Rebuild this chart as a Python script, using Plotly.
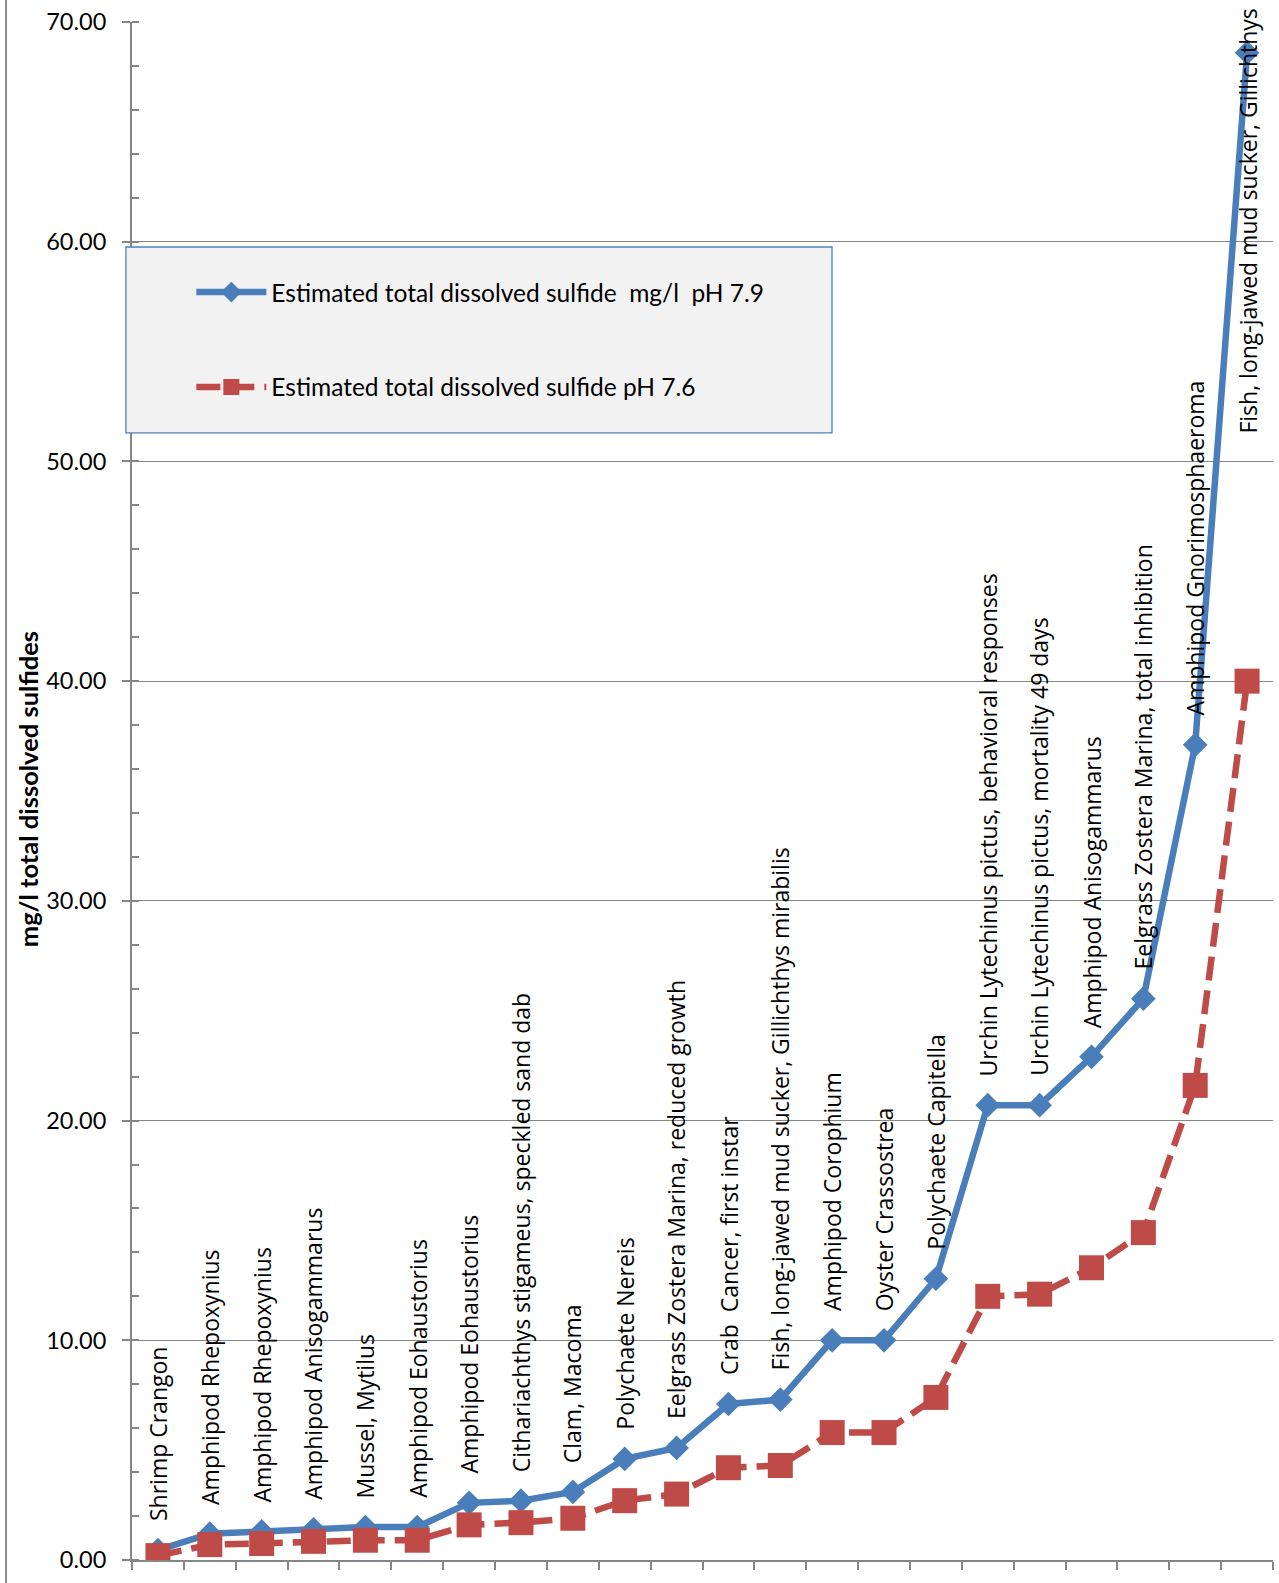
import plotly.graph_objects as go

species = [
    "Shrimp Crangon",
    "Amphipod Rhepoxynius",
    "Amphipod Rhepoxynius",
    "Amphipod Anisogammarus",
    "Mussel, Mytilus",
    "Amphipod Eohaustorius",
    "Amphipod Eohaustorius",
    "Cithariachthys stigameus, speckled sand dab",
    "Clam, Macoma",
    "Polychaete Nereis",
    "Eelgrass Zostera Marina, reduced growth",
    "Crab  Cancer, first instar",
    "Fish, long-jawed mud sucker, Gillichthys mirabilis",
    "Amphipod Corophium",
    "Oyster Crassostrea",
    "Polychaete Capitella",
    "Urchin Lytechinus pictus, behavioral responses",
    "Urchin Lytechinus pictus, mortality 49 days",
    "Amphipod Anisogammarus",
    "Eelgrass Zostera Marina, total inhibition",
    "Amphipod Gnorimosphaeroma",
    "Fish, long-jawed mud sucker, Gillichthys",
]

sulfide_ph79 = [0.45, 1.2, 1.3, 1.4, 1.5, 1.5, 2.6, 2.7, 3.1, 4.6, 5.1, 7.1, 7.3,
                10.0, 10.0, 12.8, 20.7, 20.7, 22.9, 25.55, 37.1, 68.6]
sulfide_ph76 = [0.2, 0.7, 0.75, 0.85, 0.9, 0.9, 1.6, 1.7, 1.9, 2.7, 3.0, 4.2, 4.3,
                5.8, 5.8, 7.4, 12.0, 12.1, 13.3, 14.9, 21.6, 40.0]

name_ph79 = "Estimated total dissolved sulfide  mg/l  pH 7.9"
name_ph76 = "Estimated total dissolved sulfide pH 7.6"
y_title = "mg/l total dissolved sulfides"

BLUE = "#4A7EBB"
RED = "#BE4B48"
GRID = "#868686"
FONT = "Lato"
LABEL_FONT = "Open Sans"

xs = list(range(len(species)))

fig = go.Figure()
fig.add_trace(go.Scatter(
    x=xs, y=sulfide_ph79, name=name_ph79, mode="lines+markers",
    line=dict(color=BLUE, width=6.5),
    marker=dict(symbol="diamond", size=19, color=BLUE),
    legendgroup="a",
))
fig.add_trace(go.Scatter(
    x=xs, y=sulfide_ph76, name=name_ph76, mode="lines+markers",
    line=dict(color=RED, width=6.5, dash="24px,10px"),
    marker=dict(symbol="square", size=25, color=RED),
    legendgroup="b",
))

annotations = []
last = len(species) - 1
for i, (lab, v) in enumerate(zip(species, sulfide_ph79)):
    if i == last:
        annotations.append(dict(
            x=i, y=1, xref="x", yref="paper", text=lab, showarrow=False,
            textangle=-90, xanchor="center", yanchor="top", yshift=15,
            font=dict(family=LABEL_FONT, size=23, color="black"),
        ))
    else:
        annotations.append(dict(
            x=i, y=v, xref="x", yref="y", text=lab, showarrow=False,
            textangle=-90, xanchor="center", yanchor="bottom", yshift=27,
            font=dict(family=LABEL_FONT, size=23, color="black"),
        ))

# y-axis title
annotations.append(dict(
    x=-0.0905, y=0.501, xref="paper", yref="paper", text="<b>" + y_title + "</b>",
    showarrow=False, textangle=-90, xanchor="center", yanchor="middle",
    font=dict(family=FONT, size=25.5, color="black"),
))

shapes = [
    # legend box
    dict(type="rect", xref="paper", yref="paper",
         x0=-0.0053, x1=0.6135, y0=0.7328, y1=0.8537,
         fillcolor="#F2F2F2", line=dict(color="#4F81BD", width=1.3), layer="above"),
    # outer chart border on the left
    dict(type="line", xref="paper", yref="paper",
         x0=-0.1104, x1=-0.1104, y0=-0.015, y1=1.015,
         line=dict(color="#8C8C8C", width=2)),
]

fig.update_layout(
    width=1279, height=1583,
    margin=dict(l=132, r=6, t=22, b=23),
    paper_bgcolor="white", plot_bgcolor="white",
    font=dict(family=FONT, size=22, color="black"),
    showlegend=True,
    legend=dict(
        x=0.052, y=0.839, xanchor="left", yanchor="top",
        bgcolor="rgba(0,0,0,0)", borderwidth=0,
        font=dict(family=FONT, size=24.5, color="black"),
        itemwidth=70, tracegroupgap=60, traceorder="grouped",
        itemsizing="trace",
    ),
    annotations=annotations,
    shapes=shapes,
    xaxis=dict(
        range=[-0.5, len(species) - 0.5], tick0=-0.5, dtick=1,
        showticklabels=False, showgrid=False, zeroline=False,
        showline=True, linecolor=GRID, linewidth=2,
        ticks="outside", ticklen=8, tickcolor=GRID, tickwidth=2,
    ),
    yaxis=dict(
        range=[0, 70], dtick=10, tickformat=".2f",
        showgrid=True, gridcolor=GRID, gridwidth=1.3, zeroline=False,
        showline=True, linecolor=GRID, linewidth=2,
        ticks="outside", ticklen=8, tickcolor=GRID, tickwidth=2,
        ticklabelstandoff=11,
        tickfont=dict(family=FONT, size=23.5, color="black"),
        minor=dict(ticks="inside", dtick=2, ticklen=7, tickcolor=GRID, tickwidth=2, showgrid=False),
    ),
)

fig.write_html("out.html")
